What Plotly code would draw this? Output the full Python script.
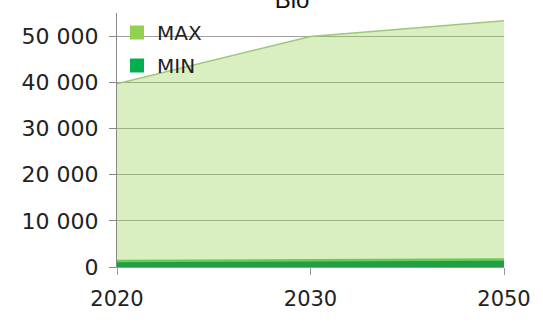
import plotly.graph_objects as go

years = ["2020", "2030", "2050"]
max_vals = [39700, 49900, 53300]
min_vals = [1300, 1400, 1600]
y_ticks = [0, 10000, 20000, 30000, 40000, 50000]
title_text = "Bio"

fig = go.Figure()
fig.add_trace(go.Scatter(
    x=years, y=max_vals, mode="lines", fill="tozeroy",
    fillcolor="rgba(146,208,80,0.35)", line=dict(color="#9cc87a", width=1.5),
    showlegend=False, hoverinfo="skip"))
fig.add_trace(go.Scatter(
    x=years, y=min_vals, mode="lines", fill="tozeroy",
    fillcolor="#1f9e45", line=dict(color="#66cc55", width=2.5),
    showlegend=False, hoverinfo="skip"))
# legend entries
fig.add_trace(go.Scatter(x=[None], y=[None], mode="markers", name="MAX",
                         legendgroup="a",
                         marker=dict(symbol="square", size=14, color="#92d050")))
fig.add_trace(go.Scatter(x=[None], y=[None], mode="markers", name="MIN",
                         legendgroup="b",
                         marker=dict(symbol="square", size=14, color="#00b050")))

fig.update_layout(
    width=543, height=323,
    margin=dict(l=117, r=36, t=13, b=37),
    paper_bgcolor="white", plot_bgcolor="white",
    separators=". ",
    font=dict(family="DejaVu Sans", size=21, color="#222222"),
    title=dict(text=title_text, x=292/543, xanchor="center", xref="container",
               y=1, yanchor="middle", yref="container",
               font=dict(family="Liberation Sans, Arial", size=24, color="#111111")),
    legend=dict(x=0.0, y=1.0, xanchor="left", yanchor="top",
                bgcolor="rgba(0,0,0,0)", font=dict(size=20, color="#222222"),
                traceorder="grouped", tracegroupgap=4, itemsizing="trace"),
    xaxis=dict(type="category", range=[0, 2], showgrid=False,
               showline=True, linecolor="#999999", linewidth=1,
               ticks="outside", ticklen=7, tickcolor="#999999",
               ticklabelstandoff=6,
               tickfont=dict(size=21), zeroline=False),
    yaxis=dict(range=[0, 55000], tickvals=y_ticks, tickformat=",d",
               showgrid=True, gridcolor="#a0a0a0", gridwidth=1,
               showline=True, linecolor="#888888", linewidth=1,
               ticks="outside", ticklen=7, tickcolor="#888888",
               ticklabelstandoff=6,
               tickfont=dict(size=22), zeroline=False),
)

fig.write_html("out.html", config={"displayModeBar": False},
               post_script="document.body.style.margin='0';document.body.style.overflow='hidden';")
